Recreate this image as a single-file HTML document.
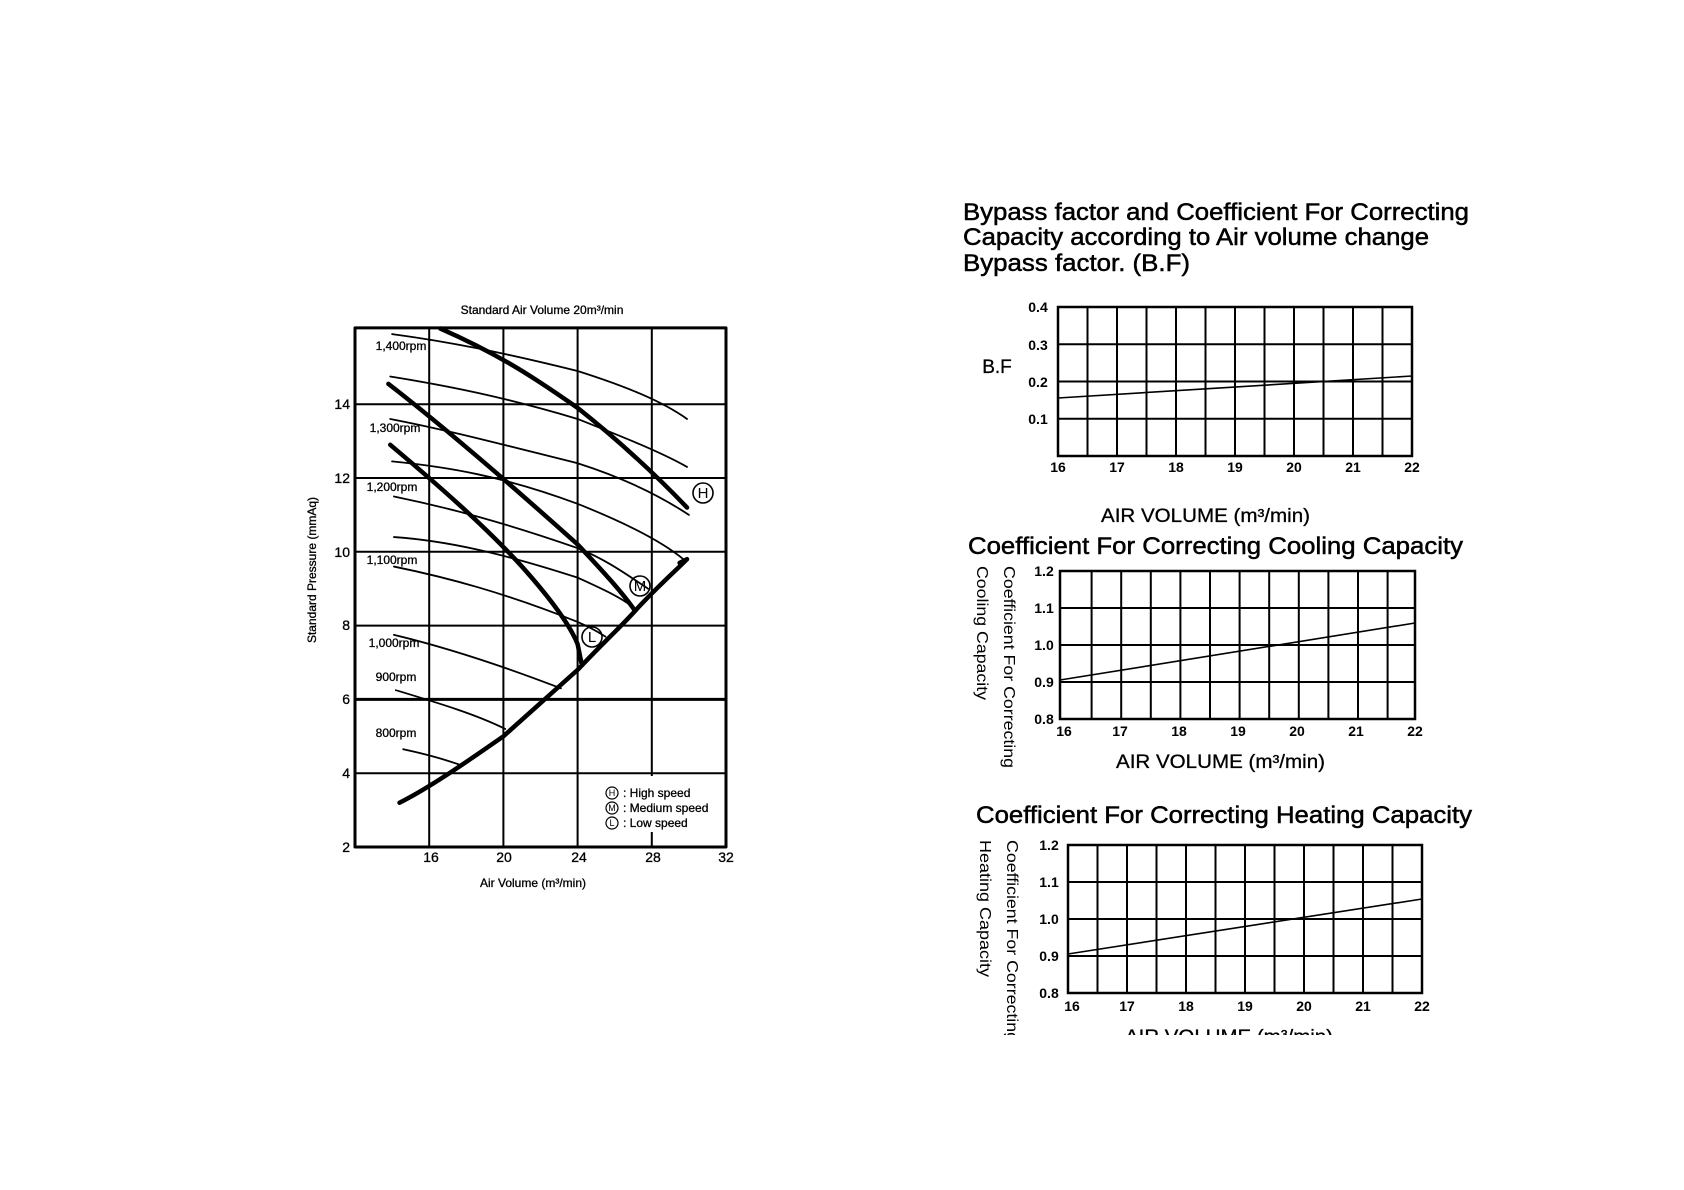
<!DOCTYPE html>
<html><head><meta charset="utf-8"><style>
html,body{margin:0;padding:0;background:#fff;}
svg{display:block;}
text{font-family:"Liberation Sans",Arial,sans-serif;fill:#000;}
.b{stroke:#000;stroke-width:0.5;}
.s{stroke:#000;stroke-width:0.3;}
</style></head><body>
<svg width="1684" height="1190" viewBox="0 0 1684 1190" xmlns="http://www.w3.org/2000/svg">
<rect width="1684" height="1190" fill="#fff"/>

<!-- ============ LEFT CHART ============ -->
<g transform="translate(132.4,920.8) scale(18.55,-36.9)" fill="none" stroke="#000" stroke-linecap="round" stroke-linejoin="round">
  <path vector-effect="non-scaling-stroke" stroke-width="2" d="M16 2V16.07 M20 2V16.07 M24 2V16.07 M28 2V16.07 M12 4H32 M12 8H32 M12 10H32 M12 12H32 M12 14H32"/>
  <path vector-effect="non-scaling-stroke" stroke-width="3" d="M12 6H32"/>
  <g stroke-width="1.8">
    <path vector-effect="non-scaling-stroke" d="M14.0 15.9 C17 15.7 20 15.4 24 14.9 C26.5 14.5 28.5 14.1 29.9 13.6"/>
    <path vector-effect="non-scaling-stroke" d="M13.9 14.75 C17 14.5 20 14.2 24 13.6 C26.5 13.1 28.5 12.7 29.9 12.3"/>
    <path vector-effect="non-scaling-stroke" d="M13.9 13.6 C17 13.3 20 12.9 24 12.4 C26.5 12.0 28.5 11.5 30.0 11.0"/>
    <path vector-effect="non-scaling-stroke" d="M14.0 12.45 C17 12.3 20 12.05 24 11.3 C26.5 10.8 28.5 10.3 29.7 9.8"/>
    <path vector-effect="non-scaling-stroke" d="M14.1 11.5 C17 11.2 20 10.8 24 10.1 C25.5 9.8 26.6 9.4 27.8 9.0"/>
    <path vector-effect="non-scaling-stroke" d="M14.1 10.4 C17 10.3 20 9.95 24 9.3 C25.3 9.0 26.2 8.8 27.0 8.5"/>
    <path vector-effect="non-scaling-stroke" d="M14.1 9.6 C17 9.3 20 8.9 24 8.1 C24.7 7.95 25.2 7.8 25.5 7.7"/>
    <path vector-effect="non-scaling-stroke" d="M14.1 7.75 C17 7.4 20 6.9 23.1 6.3"/>
    <path vector-effect="non-scaling-stroke" d="M14.2 6.25 C16.5 5.9 18.5 5.6 20.1 5.2"/>
    <path vector-effect="non-scaling-stroke" d="M14.6 4.65 C16 4.5 17 4.35 17.8 4.2"/>
  </g>
  <g stroke-width="4.5">
    <path vector-effect="non-scaling-stroke" d="M16.6 16.05 C20 15.3 22 14.6 24 13.9 C26 13.1 28 12.2 29.9 11.2"/>
    <path vector-effect="non-scaling-stroke" d="M13.8 14.55 C16.5 13.5 20 12.0 24 10.2 C25.5 9.4 26.4 8.9 27.1 8.4"/>
    <path vector-effect="non-scaling-stroke" d="M13.9 12.9 C16.5 11.8 19 10.7 21 9.6 C22.6 8.7 23.6 8.0 24.0 7.5 L24.2 7.0"/>
    <path vector-effect="non-scaling-stroke" d="M14.4 3.2 C16 3.6 18 4.3 20 5.0 C22 5.9 24 6.8 24 6.8 C25.3 7.5 26.2 7.9 27.1 8.4 C28.2 9.0 29.1 9.4 29.9 9.8 L29.5 9.7"/>
  </g>
  <path vector-effect="non-scaling-stroke" stroke-width="3" d="M12 2H32V16.07H12Z"/>
</g>
<rect x="598" y="776" width="126" height="56" fill="#fff"/>
<g fill="none" stroke="#000" stroke-width="1.6">
  <circle cx="703" cy="493" r="10"/>
  <circle cx="640" cy="586" r="10"/>
  <circle cx="592" cy="637" r="10"/>
</g>
<g font-size="15" text-anchor="middle">
  <text x="703" y="498">H</text>
  <text x="640" y="591">M</text>
  <text x="592" y="642">L</text>
</g>
<g fill="none" stroke="#000" stroke-width="1.2">
  <circle cx="612" cy="793" r="6"/>
  <circle cx="612" cy="808" r="6"/>
  <circle cx="612" cy="823" r="6"/>
</g>
<g font-size="9" text-anchor="middle">
  <text x="612" y="796">H</text>
  <text x="612" y="811">M</text>
  <text x="612" y="826">L</text>
</g>
<g font-size="12" class="s">
  <text x="623" y="797">: High speed</text>
  <text x="623" y="812">: Medium speed</text>
  <text x="623" y="827">: Low speed</text>
</g>
<g font-size="12" text-anchor="middle" class="s">
  <text x="401" y="350">1,400rpm</text>
  <text x="395" y="432">1,300rpm</text>
  <text x="392" y="491">1,200rpm</text>
  <text x="392" y="564">1,100rpm</text>
  <text x="394" y="647">1,000rpm</text>
  <text x="396" y="681">900rpm</text>
  <text x="396" y="737">800rpm</text>
</g>
<g font-size="14" text-anchor="end" class="s">
  <text x="350" y="409">14</text>
  <text x="350" y="483">12</text>
  <text x="350" y="557">10</text>
  <text x="350" y="630">8</text>
  <text x="350" y="704">6</text>
  <text x="350" y="778">4</text>
  <text x="350" y="852">2</text>
</g>
<g font-size="14" text-anchor="middle" class="s">
  <text x="431" y="862">16</text>
  <text x="504" y="862">20</text>
  <text x="579" y="862">24</text>
  <text x="653" y="862">28</text>
  <text x="726" y="862">32</text>
</g>
<text x="542" y="314" font-size="12" text-anchor="middle" class="s">Standard Air Volume 20m³/min</text>
<text x="533" y="887" font-size="12" text-anchor="middle" class="s">Air Volume (m³/min)</text>
<text transform="translate(316,570) rotate(-90)" font-size="12" text-anchor="middle" class="s">Standard Pressure (mmAq)</text>

<!-- ============ RIGHT CHARTS ============ -->
<g font-size="24" class="b">
  <text x="963" y="220" textLength="506" lengthAdjust="spacingAndGlyphs">Bypass factor and Coefficient For Correcting</text>
  <text x="963" y="245" textLength="466" lengthAdjust="spacingAndGlyphs">Capacity according to Air volume change</text>
  <text x="963" y="271" textLength="227" lengthAdjust="spacingAndGlyphs">Bypass factor. (B.F)</text>
  <text x="968" y="554" textLength="495" lengthAdjust="spacingAndGlyphs">Coefficient For Correcting Cooling Capacity</text>
  <text x="976" y="823" textLength="496" lengthAdjust="spacingAndGlyphs">Coefficient For Correcting Heating Capacity</text>
</g>

<g fill="none" stroke="#000">
  <path stroke-width="2" d="M1087.5 307v149m29.5-149v149m29.5-149v149m29.5-149v149m29.5-149v149m29.5-149v149m29.5-149v149m29.5-149v149m29.5-149v149m29.5-149v149m29.5-149v149 M1058 344.25H1412 M1058 381.5H1412 M1058 418.75H1412"/>
  <rect x="1058" y="307" width="354" height="149" stroke-width="2.5"/>
  <path stroke-width="1.6" d="M1058 398L1412 376"/>
</g>
<g font-size="14" font-weight="bold" text-anchor="middle">
  <text x="1038" y="312">0.4</text>
  <text x="1038" y="350">0.3</text>
  <text x="1038" y="387">0.2</text>
  <text x="1038" y="424">0.1</text>
  <text x="1058" y="472">16</text><text x="1117" y="472">17</text><text x="1176" y="472">18</text><text x="1235" y="472">19</text><text x="1294" y="472">20</text><text x="1353" y="472">21</text><text x="1412" y="472">22</text>
</g>
<text x="997" y="373" font-size="19" text-anchor="middle" class="s">B.F</text>
<text x="1101" y="522" font-size="19" textLength="209" lengthAdjust="spacingAndGlyphs" class="s">AIR VOLUME (m³/min)</text>

<g fill="none" stroke="#000">
  <path stroke-width="2" d="M1091.6 571v148m29.6-148v148m29.6-148v148m29.6-148v148m29.6-148v148m29.6-148v148m29.6-148v148m29.6-148v148m29.6-148v148m29.6-148v148m29.6-148v148 M1060 608H1415 M1060 645H1415 M1060 682H1415"/>
  <rect x="1060" y="571" width="355" height="148" stroke-width="2.5"/>
  <path stroke-width="1.6" d="M1060 680L1415 623"/>
</g>
<g font-size="14" font-weight="bold" text-anchor="middle">
  <text x="1044" y="576">1.2</text>
  <text x="1044" y="613">1.1</text>
  <text x="1044" y="650">1.0</text>
  <text x="1044" y="687">0.9</text>
  <text x="1044" y="724">0.8</text>
  <text x="1064" y="736">16</text><text x="1120" y="736">17</text><text x="1179" y="736">18</text><text x="1238" y="736">19</text><text x="1297" y="736">20</text><text x="1356" y="736">21</text><text x="1415" y="736">22</text>
</g>
<text x="1116" y="768" font-size="19" textLength="209" lengthAdjust="spacingAndGlyphs" class="s">AIR VOLUME (m³/min)</text>
<g font-size="16">
  <text transform="translate(1004,566) rotate(90)" textLength="202" lengthAdjust="spacingAndGlyphs">Coefficient For Correcting</text>
  <text transform="translate(977,566) rotate(90)" textLength="134" lengthAdjust="spacingAndGlyphs">Cooling Capacity</text>
</g>

<g fill="none" stroke="#000">
  <path stroke-width="2" d="M1097.5 845v148m29.5-148v148m29.5-148v148m29.5-148v148m29.5-148v148m29.5-148v148m29.5-148v148m29.5-148v148m29.5-148v148m29.5-148v148m29.5-148v148 M1068 882H1422 M1068 919H1422 M1068 956H1422"/>
  <rect x="1068" y="845" width="354" height="148" stroke-width="2.5"/>
  <path stroke-width="1.6" d="M1068 954L1422 899"/>
</g>
<g font-size="14" font-weight="bold" text-anchor="middle">
  <text x="1049" y="850">1.2</text>
  <text x="1049" y="887">1.1</text>
  <text x="1049" y="924">1.0</text>
  <text x="1049" y="961">0.9</text>
  <text x="1049" y="998">0.8</text>
  <text x="1072" y="1011">16</text><text x="1127" y="1011">17</text><text x="1186" y="1011">18</text><text x="1245" y="1011">19</text><text x="1304" y="1011">20</text><text x="1363" y="1011">21</text><text x="1422" y="1011">22</text>
</g>
<text x="1125" y="1043" font-size="19" textLength="208" lengthAdjust="spacingAndGlyphs" class="s">AIR VOLUME (m³/min)</text>
<g font-size="16">
  <text transform="translate(1007,840) rotate(90)" textLength="202" lengthAdjust="spacingAndGlyphs">Coefficient For Correcting</text>
  <text transform="translate(980,840) rotate(90)" textLength="137" lengthAdjust="spacingAndGlyphs">Heating Capacity</text>
</g>
<rect x="940" y="1035" width="560" height="60" fill="#fff"/>
</svg>
</body></html>
